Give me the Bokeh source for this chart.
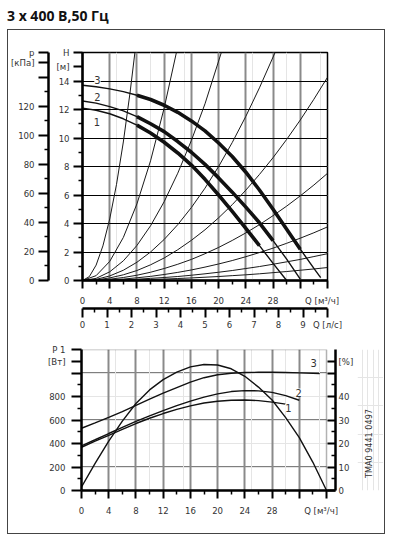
from bokeh.plotting import figure
from bokeh.models import Range1d, LinearAxis, FixedTicker, Label, Div, Grid, BoxAnnotation
from bokeh.layouts import column, row
from bokeh.embed import file_html
from bokeh.resources import INLINE
from bokeh.core.properties import value

# ---------------- data ----------------
TITLE = "3 x 400 В,50 Гц"
Q_MAX = 36          # m3/h
H_MAX = 16          # m
P_MAX = 1200        # W
PCT_MAX = 60        # %
KPA_PER_M = 9.81
M3H_PER_LS = 3.6
KPA_TOP = H_MAX * KPA_PER_M

q_ticks = [0, 4, 8, 12, 16, 20, 24, 28, 32, 36]
q_minor = [2, 6, 10, 14, 18, 22, 26, 30, 34]
q_grid = [4, 8, 12, 16, 20, 24, 28, 32]
ls_ticks = [0, 1, 2, 3, 4, 5, 6, 7, 8, 9, 10]
ls_minor = [0.5, 1.5, 2.5, 3.5, 4.5, 5.5, 6.5, 7.5, 8.5, 9.5]
h_ticks = [0, 2, 4, 6, 8, 10, 12, 14, 15, 16]
h_minor = [1, 3, 5, 7, 9, 11, 13]
h_grid = [2, 4, 6, 8, 10, 12, 14]
kpa_ticks = [0, 20, 40, 60, 80, 100, 120, 140, 150, KPA_TOP]
kpa_minor = [10, 30, 50, 70, 90, 110, 130]
p_ticks = [0, 200, 400, 600, 800, 1000, 1100, 1200]
p_minor = [100, 300, 500, 700, 900]
p_grid = [200, 400, 600, 800, 1000]
pct_ticks = [0, 10, 20, 30, 40, 50, 55]
pct_minor = [5, 15, 25, 35, 45]

NB = "\u00a0"
Q_UNIT = "Q [м³/ч]" + NB * 4
LS_UNIT = "Q [л/с]"
H_UNIT = ("H", "[м]")
P_UNIT = ("p", "[кПа]")
P1_UNIT = ("P 1", "[Вт]")
PCT_UNIT = "[%]"

# pump curves H(Q)
q1 = [0, 2, 4, 6, 8, 10, 12, 14, 16, 18, 20, 22, 24, 26, 28, 30]
h1 = [12.1, 11.95, 11.7, 11.35, 10.9, 10.35, 9.7, 8.95, 8.1, 7.1, 6.0, 4.85, 3.65, 2.45, 1.2, 0.0]
q2 = [0, 2, 4, 6, 8, 10, 12, 14, 16, 18, 20, 22, 24, 26, 28, 30, 32]
h2 = [12.6, 12.45, 12.2, 11.9, 11.5, 11.0, 10.45, 9.75, 9.0, 8.15, 7.2, 6.2, 5.15, 4.05, 2.8, 1.5, 0.1]
q3 = [0, 2, 4, 6, 8, 10, 12, 14, 16, 18, 20, 22, 24, 26, 28, 30, 32, 34, 35]
h3 = [13.7, 13.6, 13.45, 13.25, 13.0, 12.7, 12.3, 11.8, 11.2, 10.5, 9.65, 8.7, 7.6, 6.35, 5.0, 3.6, 2.2, 0.85, 0.2]
thick1 = (8, 26)
thick2 = (8, 28)
thick3 = (8, 32)

# system curves
sys_q = [
    [0, 1, 2, 3, 4, 5, 6, 7, 7.7],
    [0, 2, 4, 6, 8, 10, 12, 13.8],
    [0, 2, 4, 6, 8, 10, 12, 14, 16, 18, 20, 20.4],
    [0, 2, 4, 6, 8, 10, 12, 14, 16, 18, 20, 22, 24, 26, 28, 28.3],
    [0, 2, 4, 6, 8, 10, 12, 14, 16, 18, 20, 22, 24, 26, 28, 30, 32, 34, 36],
    [0, 2, 4, 6, 8, 10, 12, 14, 16, 18, 20, 22, 24, 26, 28, 30, 32, 34, 36],
    [0, 2, 4, 6, 8, 10, 12, 14, 16, 18, 20, 22, 24, 26, 28, 30, 32, 34, 36],
    [0, 2, 4, 6, 8, 10, 12, 14, 16, 18, 20, 22, 24, 26, 28, 30, 32, 34, 36],
    [0, 2, 4, 6, 8, 10, 12, 14, 16, 18, 20, 22, 24, 26, 28, 30, 32, 34, 36],
]
sys_h = [
    [0, 0.27, 1.08, 2.43, 4.32, 6.75, 9.72, 13.23, 16.0],
    [0, 0.34, 1.34, 3.02, 5.38, 8.4, 12.1, 16.0],
    [0, 0.15, 0.61, 1.38, 2.46, 3.84, 5.53, 7.53, 9.83, 12.4, 15.4, 16.0],
    [0, 0.08, 0.32, 0.72, 1.28, 2.0, 2.88, 3.92, 5.12, 6.48, 8.0, 9.68, 11.52, 13.52, 15.68, 16.0],
    [0, 0.04, 0.18, 0.40, 0.70, 1.10, 1.58, 2.16, 2.82, 3.56, 4.40, 5.32, 6.34, 7.44, 8.62, 9.90, 11.26, 12.72, 14.26],
    [0, 0.02, 0.09, 0.21, 0.37, 0.58, 0.84, 1.14, 1.48, 1.88, 2.32, 2.81, 3.34, 3.92, 4.55, 5.22, 5.94, 6.70, 7.52],
    [0, 0.01, 0.05, 0.10, 0.19, 0.29, 0.42, 0.57, 0.74, 0.94, 1.16, 1.40, 1.67, 1.96, 2.27, 2.61, 2.97, 3.35, 3.76],
    [0, 0.01, 0.02, 0.05, 0.09, 0.15, 0.21, 0.28, 0.37, 0.47, 0.58, 0.70, 0.84, 0.98, 1.14, 1.31, 1.48, 1.68, 1.88],
    [0, 0.0, 0.01, 0.03, 0.05, 0.07, 0.10, 0.14, 0.18, 0.23, 0.28, 0.34, 0.40, 0.47, 0.55, 0.63, 0.72, 0.81, 0.91],
]

# power P1(Q), W
pq1 = [0, 2, 4, 6, 8, 10, 12, 14, 16, 18, 20, 22, 24, 26, 28, 30]
pw1 = [368, 420, 470, 520, 570, 615, 655, 690, 720, 745, 760, 768, 770, 765, 752, 735]
pq2 = [0, 2, 4, 6, 8, 10, 12, 14, 16, 18, 20, 22, 24, 26, 28, 30, 32]
pw2 = [380, 432, 485, 537, 588, 635, 680, 722, 760, 795, 822, 842, 850, 848, 835, 808, 768]
pq3 = [0, 2, 4, 6, 8, 10, 12, 14, 16, 18, 20, 22, 24, 26, 28, 30, 32, 34, 35]
pw3 = [530, 575, 622, 672, 725, 777, 828, 876, 922, 960, 985, 998, 1004, 1006, 1006, 1004, 1001, 997, 995]
# efficiency (%)
eq = [0, 2, 4, 6, 8, 10, 12, 14, 16, 18, 20, 22, 24, 26, 28, 30, 32, 34, 36]
eta = [1.5, 11.5, 21, 29.5, 37, 42.8, 47.2, 50.4, 52.6, 53.6, 53.4, 51.8, 48.6, 44, 38.5, 31, 22.5, 12, 0]

DRAWING_NO = "TMA0 9441 0497"

# ---------------- styling / layout ----------------
FONT = "Liberation Sans Narrow, DejaVu Sans Condensed, Liberation Sans"
TXT = "#333333"
FS = "9.5px"
PCT_AXIS_Q = 37.32   # position of the offset % axis (in Q units)
TMA_POS = (0.46, 0.333)  # position of the drawing number inside its strip


def style_axis(ax, t_out=8, m_out=4, t_in=0, m_in=0):
    ax.axis_line_width = 2.5
    ax.axis_line_color = "black"
    ax.major_tick_line_width = 2
    ax.major_tick_line_color = "black"
    ax.minor_tick_line_width = 1.5
    ax.minor_tick_line_color = "black"
    ax.major_tick_in = t_in
    ax.major_tick_out = t_out
    ax.minor_tick_in = m_in
    ax.minor_tick_out = m_out
    ax.major_label_text_font = FONT
    ax.major_label_text_font_size = FS
    ax.major_label_text_color = TXT


def txt(p, x, y, s, size="11px", bg=None):
    lab = Label(x=x, y=y, text=s, text_font=FONT, text_font_size=size,
                text_color=TXT, text_align="center", text_baseline="middle")
    if bg:
        lab.background_fill_color = bg
    p.add_layout(lab)


# ---------- top chart ----------
top = figure(frame_width=245, frame_height=228, x_range=Range1d(0, Q_MAX), y_range=Range1d(0, H_MAX),
             x_axis_location=None, y_axis_location=None,
             output_backend="svg", toolbar_location=None,
             min_border_left=73, min_border_right=57, min_border_top=22, min_border_bottom=55)
top.extra_y_ranges = {"kpa": Range1d(0, KPA_TOP)}
top.extra_x_ranges = {"ls": Range1d(0, Q_MAX / M3H_PER_LS)}
top.outline_line_color = "black"
top.outline_line_width = 1.5

top.add_layout(Grid(dimension=0, ticker=FixedTicker(ticks=q_grid), grid_line_color="#8a8a8a", grid_line_width=2))
top.add_layout(Grid(dimension=1, ticker=FixedTicker(ticks=h_grid), grid_line_color="black", grid_line_width=1.2))

h_axis = LinearAxis(ticker=FixedTicker(ticks=h_ticks, minor_ticks=h_minor),
                    major_label_overrides={15: H_UNIT[1], 16: H_UNIT[0]}, axis_label=" ",
                    axis_label_text_font_size="1px", axis_label_standoff=1)
style_axis(h_axis, 9, 4)
h_axis.major_label_standoff = 4
top.add_layout(h_axis, "left")

kpa_axis = LinearAxis(y_range_name="kpa", ticker=FixedTicker(ticks=kpa_ticks, minor_ticks=kpa_minor),
                      major_label_overrides={140: "", 150: P_UNIT[1], KPA_TOP: P_UNIT[0]})
style_axis(kpa_axis, 10, 4)
kpa_axis.major_label_standoff = 4
top.add_layout(kpa_axis, "left")

q_axis = LinearAxis(ticker=FixedTicker(ticks=q_ticks, minor_ticks=q_minor),
                    major_label_overrides={32: "", 36: Q_UNIT})
style_axis(q_axis, 8, 4)
q_axis.major_label_standoff = 6
top.add_layout(q_axis, "below")

ls_axis = LinearAxis(x_range_name="ls", ticker=FixedTicker(ticks=ls_ticks, minor_ticks=ls_minor),
                     major_label_overrides={10: LS_UNIT})
style_axis(ls_axis, 9, 4)
ls_axis.major_label_standoff = 1
top.add_layout(ls_axis, "below")

for qs, hs in zip(sys_q, sys_h):
    top.line(qs, hs, line_color="#1a1a1a", line_width=1.0)

for qs, hs, (a, b) in ((q1, h1, thick1), (q2, h2, thick2), (q3, h3, thick3)):
    top.line(qs, hs, line_color="#111111", line_width=1.4)
    tq = [q for q in qs if a <= q <= b]
    th = [h for q, h in zip(qs, hs) if a <= q <= b]
    top.line(tq, th, line_color="#111111", line_width=3.6, line_join="round")

txt(top, 2.2, 14.1, "3", bg="white")
txt(top, 2.2, 12.85, "2", bg="white")
txt(top, 2.1, 11.1, "1", bg="white")

# ---------- bottom chart ----------
bot = figure(frame_width=254, frame_height=141, x_range=Range1d(0, PCT_AXIS_Q), y_range=Range1d(0, P_MAX),
             x_axis_location=None, y_axis_location=None,
             output_backend="svg", toolbar_location=None,
             min_border_left=73, min_border_right=22, min_border_top=14, min_border_bottom=43)
bot.extra_y_ranges = {"pct": Range1d(0, PCT_MAX)}
bot.outline_line_color = None

bot.add_layout(Grid(dimension=0, ticker=FixedTicker(ticks=q_grid), grid_line_color="#8a8a8a", grid_line_width=2))
bot.segment(x0=0, x1=Q_MAX, y0=p_grid, y1=p_grid, line_color="black", line_width=1.2, level="underlay")
bot.add_layout(BoxAnnotation(left=0, right=Q_MAX, bottom=0, top=P_MAX, fill_color=None,
                             line_color="black", line_width=1.5))

bq_axis = LinearAxis(ticker=FixedTicker(ticks=q_ticks, minor_ticks=q_minor),
                     major_label_overrides={32: "", 36: Q_UNIT})
style_axis(bq_axis, 8, 4)
bq_axis.major_label_standoff = 6
bot.add_layout(bq_axis, "below")

p_axis = LinearAxis(ticker=FixedTicker(ticks=p_ticks, minor_ticks=p_minor),
                    major_label_overrides={1000: "", 1100: P1_UNIT[1], 1200: P1_UNIT[0]})
style_axis(p_axis, 10, 4)
p_axis.major_label_standoff = 6
bot.add_layout(p_axis, "left")

pct_axis = LinearAxis(y_range_name="pct", ticker=FixedTicker(ticks=pct_ticks, minor_ticks=pct_minor),
                      major_label_overrides={50: "", 55: PCT_UNIT})
style_axis(pct_axis, 0, 0, 8, 4)
pct_axis.major_label_standoff = 3
bot.add_layout(pct_axis, "right")

for qs, ws in ((pq1, pw1), (pq2, pw2), (pq3, pw3)):
    bot.line(qs, ws, line_color="#111111", line_width=1.4)
bot.line(eq, eta, y_range_name="pct", line_color="#111111", line_width=1.4)

txt(bot, 34.1, 1081, "3", bg="white")
txt(bot, 31.9, 834, "2", bg="white")
txt(bot, 30.4, 706, "1", bg="white")

# ---------- strip with the drawing number ----------
tma = figure(width=26, height=198, x_range=Range1d(0, 1), y_range=Range1d(0, 1),
             x_axis_location=None, y_axis_location=None,
             output_backend="svg", toolbar_location=None, min_border=0)
tma.outline_line_color = None
tma.text(x=[TMA_POS[0]], y=[TMA_POS[1]], text=[DRAWING_NO], angle=1.5708,
         text_font=value(FONT), text_font_size="9px", text_color=TXT,
         text_align="center", text_baseline="middle")

title = Div(text=TITLE, width=300, height=23, margin=(7, 0, 0, 7),
            styles={"font-family": "Open Sans", "font-weight": "bold", "font-size": "14px",
                    "color": "#111", "line-height": "18px"})
box = column(top, row(bot, tma), margin=(0, 0, 0, 8), styles={"outline": "1px solid #444"})
page = column(title, box)

open("out.html", "w").write(file_html(page, INLINE))
